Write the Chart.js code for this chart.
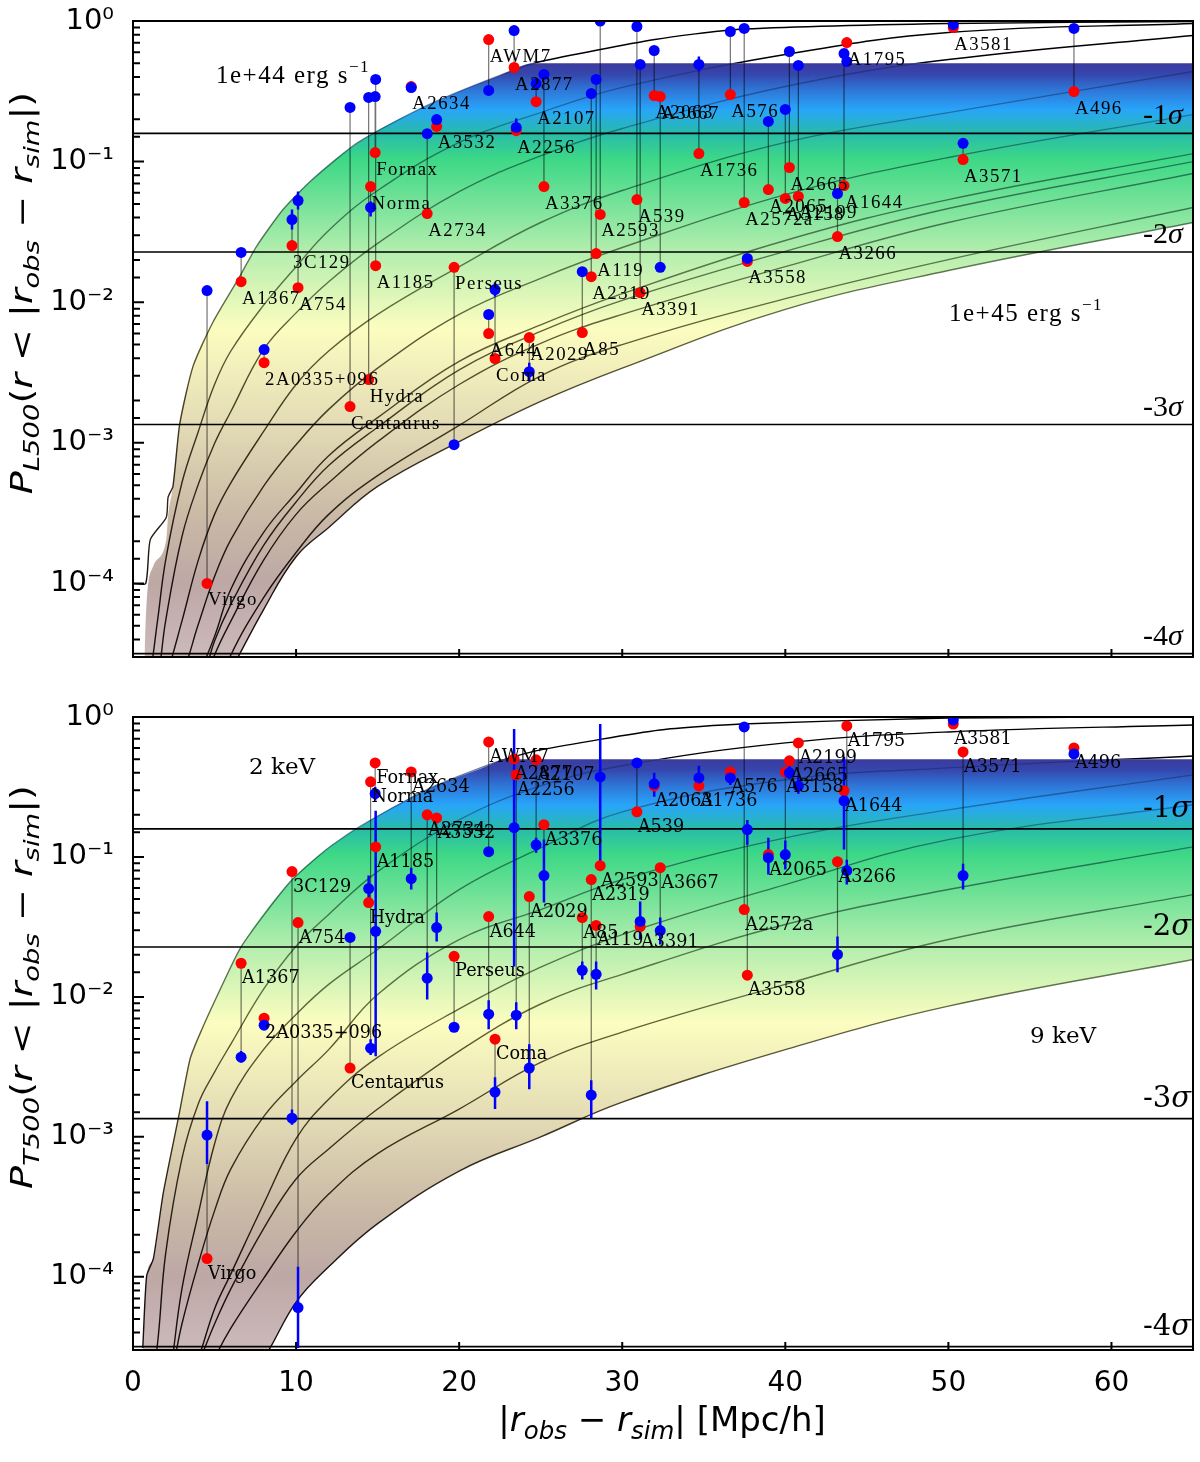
<!DOCTYPE html>
<html lang="en">
<head>
<meta charset="UTF-8">
<title>Cluster probabilities</title>
<script src="https://cdn.jsdelivr.net/npm/chart.js"></script>
<style>
    body { margin: 0; background: #fff; }
    canvas { position: absolute; left: 0; }
    #lumChart { top: 0; }
    #tempChart { top: 690px; }
</style>
</head>
<body>
<canvas id="lumChart" width="1200" height="690"></canvas>
<canvas id="tempChart" width="1200" height="772"></canvas>

<script>
// clusters, sorted by separation
const clusterNames = ['Virgo','A1367','2A0335+096','3C129','A754','Centaurus','Hydra','Norma','Fornax','A1185','A2634',
    'A2734','A3532','Perseus','A644','AWM7','Coma','A2877','A2256','A2029','A2107','A3376','A85','A2319','A119','A2593',
    'A539','A3391','A2063','A3667','A1736','A576','A2572a','A3558','A2065','A3158','A2665','A2199','A3266','A1644',
    'A1795','A3581','A3571','A496'];
const clusterX = [4.54,6.63,8.04,9.75,10.12,13.31,14.45,14.57,14.85,14.88,17.06,18.04,18.62,19.69,21.81,21.81,22.2,
    23.37,23.5,24.3,24.72,25.2,27.55,28.1,28.4,28.65,30.9,31.1,31.96,32.33,34.7,36.63,37.48,37.67,38.96,40,40.25,40.8,
    43.2,43.6,43.77,50.3,50.9,57.7];

// upper panel, luminosity
const lumRed = [1e-4,.014,.00372,.0253,.0127,.00181,.00282,.0665,.116,.0182,.342,.0427,.178,.0177,.00599,.738,.00398,
    .467,.166,.00561,.267,.0665,.00609,.0152,.0222,.0421,.0537,.0117,.295,.29,.114,.3,.0512,.0195,.0633,.0547,.0908,
    .0565,.0293,.0676,.703,.899,.1035,.315];
const lumBlue = [.0121,.0226,.00461,.0387,.0529,.243,.286,.0472,.29,.384,.336,.158,.199,.00097,.00818,.321,.0123,.855,
    .175,.00321,.359,.417,.0165,.305,.384,1.0,.914,.491,.617,.0177,.491,.842,.885,.0205,.193,.235,.607,.483,.0593,.587,
    .515,.944,.135,.885];
const lumErrHi = [null,null,null,.0456,.0612,null,null,.052,null,null,null,null,null,null,null,null,.0138,null,.203,.00372,
    null,null,null,null,null,null,null,null,null,null,.56,null,null,null,null,null,null,null,null,null,null,null,null,null];
const lumErrLo = [null,null,null,.0329,.0456,null,null,.0407,null,null,null,null,null,null,null,null,.011,null,.153,.00273,
    null,null,null,null,null,null,null,null,null,null,.437,null,null,null,null,null,null,null,null,null,null,null,null,null];

// lower panel, temperature
const tempRed = [1.35e-4,.0174,.00704,.0786,.034,.0031,.0472,.344,.47,.118,.405,.2,.19,.0195,.0375,.664,.00499,.502,
    .386,.0521,.494,.17,.0369,.0689,.0324,.0867,.21,.0318,.322,.0839,.322,.405,.0421,.0143,.104,.405,.486,.653,.0926,
    .297,.863,.891,.563,.601];
const tempBlue = [.00103,.00371,.00628,.00136,6.03e-5,.0266,.0594,.0043,.283,.0294,.07,.0136,.0313,.00607,.00752,.109,
    .00209,.162,.0074,.0031,.122,.0736,.0155,.00199,.0145,.373,.47,.0346,.333,.0298,.367,.367,.849,.157,.0989,.104,.399,
    .322,.0201,.252,.0798,.952,.0736,.545];
const tempErrHi = [.0018,.0041,.0067,.00157,1.18e-4,null,.0736,.00499,.316,.214,.0839,.0208,.0401,null,.00946,.118,.00267,
    .82,.00916,.00459,.137,.133,.0179,.00254,.0179,.891,null,.048,.399,.0369,.448,.419,null,.184,.137,.131,.45,.386,.027,
    .519,.0957,null,.0896,null];
const tempErrLo = [.00064,.0034,.0058,.00122,3.1e-5,null,.0472,.00384,.252,.00377,.0585,.0096,.0249,null,.00588,.1,.00158,
    .0165,.00588,.00219,.107,.0472,.0133,.00136,.0113,.091,null,.0257,.269,.0237,.302,.327,null,.122,.0748,.0812,.36,.283,
    .015,.113,.0635,null,.0585,null];

// simulated curves share this x grid
const curveX = [.5,1,1.5,2,3,4,5,6,8,10,12,15,20,25,30,40,50,65];

// first luminosity curve, it has a step at the left
const lumCurve0X = [0,.78,1.06,2.04,2.15,2.45,2.86,3.68,4.9,6.54,7.57,9.2,11,13.8,18,22.5,25,32,37,50,65];
const lumCurve0 = [1e-4,1e-4,2.05e-4,2.95e-4,4.1e-4,4.9e-4,1.35e-3,3.5e-3,7.2e-3,.0152,.0249,.0457,.0746,.137,.25,.41,.515,.738,.87,.96,.99];
const lumCurve1 = [1.3e-5,2.1e-5,5.4e-5,1.46e-4,5.2e-4,1.2e-3,2.6e-3,4.5e-3,9.5e-3,.0179,.0324,.0623,.137,.223,.337,.578,.828,.96];
const lumCurve2 = [1.3e-5,1.5e-5,2.1e-5,5.4e-5,2.15e-4,5.05e-4,9.9e-4,1.67e-3,4.6e-3,8.4e-3,.014,.0262,.0612,.11,.172,.342,.532,.789];
const lumCurve3 = [1.3e-5,1.5e-5,1.5e-5,2.1e-5,5.4e-5,1.46e-4,3.1e-4,5.2e-4,1.2e-3,2.6e-3,4.5e-3,8.2e-3,.0179,.0369,.0623,.137,.223,.438];
const lumCurve4 = [1.3e-5,1.3e-5,1.5e-5,1.5e-5,2.25e-5,5.1e-5,1.12e-4,2.05e-4,4.9e-4,9.7e-4,1.73e-3,3.4e-3,8.2e-3,.0148,.0245,.0583,.107,.216];
const lumCurve5 = [1.3e-5,1.3e-5,1.3e-5,1.5e-5,1.5e-5,2.25e-5,4.2e-5,9.1e-5,2.3e-4,4.4e-4,8.1e-4,1.51e-3,3.8e-3,6.9e-3,.0115,.0275,.0537,.114];
const lumCurve6 = [1.3e-5,1.3e-5,1.3e-5,1.5e-5,1.5e-5,1.75e-5,3.9e-5,7.1e-5,1.86e-4,3.8e-4,6.9e-4,1.29e-3,3.3e-3,6.2e-3,.0103,.023,.0464,.1];
const lumCurve7 = [1.3e-5,1.3e-5,1.3e-5,1.3e-5,1.5e-5,1.5e-5,3.1e-5,5.4e-5,1.46e-4,3.1e-4,5.2e-4,1.02e-3,2.6e-3,5.1e-3,8.2e-3,.0179,.0369,.0823];
const lumCurve8 = [1.3e-5,1.3e-5,1.3e-5,1.3e-5,1.3e-5,1.5e-5,1.5e-5,3.1e-5,7.9e-5,1.66e-4,3.1e-4,5.85e-4,1.33e-3,3e-3,5e-3,.0106,.0201,.0472];
const lumCurve9 = [1.3e-5,1.3e-5,1.3e-5,1.3e-5,1.3e-5,1.5e-5,1.5e-5,2.4e-5,6.5e-5,1.55e-4,2.5e-4,4.9e-4,1.02e-3,1.97e-3,3.4e-3,8.9e-3,.0168,.0369];

// upper edge of the coloured band
const lumBandX = [.7,.82,1.23,2.04,2.15,2.45,2.86,3.68,4.9,6.54,7.57,9.2,11,13.8,18,22.5,24.6,65];
const lumBandTop = [2.9e-5,6.9e-5,1.32e-4,2.05e-4,3e-4,4.9e-4,1.35e-3,3.5e-3,7.2e-3,.0152,.0249,.0457,.0746,.137,.25,.41,.5,.5];

const tempCurve0X = [.6,.84,1.25,1.86,2.78,3.5,4.09,5.2,6.65,9.6,11.86,13.8,18,22.3,25,32.3,37.3,50,65];
const tempCurve0 = [3.1e-5,1.02e-4,1.35e-4,4e-4,1.36e-3,3.6e-3,5.4e-3,.0104,.023,.0656,.113,.162,.302,.478,.582,.808,.891,.984,.995];
const tempCurve1 = [1.3e-5,1.35e-5,3.3e-5,1.46e-4,7e-4,1.72e-3,2.9e-3,4.6e-3,.0113,.023,.0388,.0785,.184,.322,.448,.653,.782,.877];
const tempCurve2 = [1.3e-5,1.3e-5,1.3e-5,1.35e-5,8.2e-5,2.8e-4,8.9e-4,1.86e-3,4.2e-3,7.5e-3,.0123,.0218,.0585,.116,.21,.356,.433,.527];
const tempCurve3 = [1.3e-5,1.3e-5,1.3e-5,1.35e-5,4.6e-5,1.24e-4,2.96e-4,5.9e-4,1.39e-3,2.5e-3,4.2e-3,.0104,.0257,.0421,.0689,.137,.217,.386];
const tempCurve4 = [1.3e-5,1.3e-5,1.3e-5,1.3e-5,1.35e-5,2.6e-5,5.9e-5,1.05e-4,3.3e-4,9.7e-4,1.86e-3,3.7e-3,8.2e-3,.0163,.0279,.0635,.133,.236];
const tempCurve5 = [1.3e-5,1.3e-5,1.3e-5,1.3e-5,1.35e-5,2.4e-5,4.6e-5,8.2e-5,2.2e-4,5e-4,8.2e-4,1.58e-3,4.1e-3,8.9e-3,.0145,.0329,.0585,.118];
const tempCurve6 = [1.3e-5,1.3e-5,1.3e-5,1.3e-5,1.3e-5,1.35e-5,2.6e-5,4.3e-5,9.7e-5,2.1e-4,3.9e-4,7.6e-4,1.58e-3,3.4e-3,5.6e-3,.0123,.0257,.0538];
const tempCurve7 = [1.3e-5,1.3e-5,1.3e-5,1.3e-5,1.3e-5,1.3e-5,1.3e-5,1.35e-5,2.6e-5,6.6e-5,1.18e-4,2.4e-4,5.7e-4,1e-3,1.77e-3,4.2e-3,8.6e-3,.0185];

const tempBandX = [.6,.84,1.25,1.86,2.78,3.5,4.09,5.2,6.65,9.6,11.86,13.8,18,22.3,22.6,65];
const tempBandTop = [3.1e-5,1.02e-4,1.35e-4,4e-4,1.36e-3,3.6e-3,5.4e-3,.0104,.023,.0656,.113,.162,.302,.478,.5,.5];

const sigmaLevels = [.1587,.02275,.00135,3.17e-5];
const sigmaLabels = ['-1','-2','-3','-4'];
const decadeValues = [1e-4,1e-3,1e-2,1e-1,1];
const decadeLabels = ['10⁻⁴','10⁻³','10⁻²','10⁻¹','10⁰'];

// colour along the band, by probability
const bandStopsP = [.5,.42,.33,.235,.16,.104,.0228,.0065,.00135,3e-4,1e-4,3e-5];
const bandStopsColor = ['#3c3a9e','#3546ad','#2f72d4','#28a5fa','#27bbab','#3dd886','#b4eeae','#fcfdc0','#e3dbb5','#c9b9a6','#bda8a5','#ccb9ba'];
// the same lines seen through the band
const lineStopsP = [.5,.2,.1,.02,.006,.001,1e-4];
const lineStopsColor = ['rgba(30,40,110,.65)','rgba(20,70,120,.55)','rgba(10,80,60,.7)','rgba(50,80,40,.75)','rgba(70,70,30,.85)','rgba(50,40,20,.95)','rgba(25,15,15,1)'];

const Y_MIN = 3e-5, Y_MAX = 1, X_MAX = 65;

function bandGradient(chart) {
    if (!chart.chartArea) return '#ccc';
    const y = chart.scales.y;
    const y0 = y.getPixelForValue(.5), y1 = y.getPixelForValue(Y_MIN);
    const g = chart.ctx.createLinearGradient(0, y0, 0, y1);
    bandStopsP.forEach((p, i) => g.addColorStop((y.getPixelForValue(p) - y0) / (y1 - y0), bandStopsColor[i]));
    return g;
}

function lineGradient(chart) {
    if (!chart.chartArea) return '#000';
    const y = chart.scales.y;
    const y0 = y.getPixelForValue(Y_MAX), y1 = y.getPixelForValue(Y_MIN);
    const g = chart.ctx.createLinearGradient(0, y0, 0, y1);
    const cut = (y.getPixelForValue(.5) - y0) / (y1 - y0);
    g.addColorStop(0, '#000');
    g.addColorStop(cut, '#000');
    lineStopsP.forEach((p, i) => g.addColorStop((y.getPixelForValue(p) - y0) / (y1 - y0) + (i ? 0 : .0001), lineStopsColor[i]));
    g.addColorStop(1, lineStopsColor[lineStopsColor.length - 1]);
    return g;
}

const pairs = (xs, ys) => xs.map((x, i) => ({x: x, y: ys[i]}));

// vertical pieces, separated by gaps
function segments(xs, a, b) {
    const out = [];
    xs.forEach((x, i) => {
        if (a[i] !== null && b[i] !== null) out.push({x: x, y: a[i]}, {x: x, y: b[i]}, {x: x, y: null});
    });
    return out;
}

// draw text made of runs with different fonts and offsets
function drawRuns(ctx, runs, x, y, opt) {
    opt = opt || {};
    const family = opt.family || 'DejaVu Sans';
    ctx.save();
    ctx.fillStyle = '#000';
    ctx.textBaseline = 'alphabetic';
    ctx.textAlign = 'left';
    if ('letterSpacing' in ctx) ctx.letterSpacing = (opt.spacing || 0) + 'px';
    const fontOf = r => (r.style || '') + ' ' + r.size + 'px "' + family + '"';
    let w = 0;
    runs.forEach(r => { ctx.font = fontOf(r); w += ctx.measureText(r.t).width; });
    ctx.translate(x, y);
    if (opt.rotate) ctx.rotate(-Math.PI / 2);
    if (opt.stretch) ctx.scale(opt.stretch, 1);
    let pos = opt.center ? -w / 2 : 0;
    runs.forEach(r => {
        ctx.font = fontOf(r);
        ctx.fillText(r.t, pos, r.dy || 0);
        pos += ctx.measureText(r.t).width;
    });
    ctx.restore();
}

function mathRuns(sub, size) {
    const s = size * .72, d = size * .24;
    return [
        {t: 'P', style: 'italic', size: size},
        {t: sub, style: 'italic', size: s, dy: d},
        {t: '(', size: size},
        {t: 'r', style: 'italic', size: size},
        {t: ' < |', size: size},
        {t: 'r', style: 'italic', size: size},
        {t: 'obs', style: 'italic', size: s, dy: d},
        {t: ' − ', size: size},
        {t: 'r', style: 'italic', size: size},
        {t: 'sim', style: 'italic', size: s, dy: d},
        {t: '|)', size: size}
    ];
}

function makePanel(id, cfg) {
    const curveSets = [cfg.curve0].concat(cfg.curves).map((vals, i) => ({
        label: 'curve' + i, data: pairs(i ? curveX : cfg.curve0X, vals), borderColor: c => lineGradient(c.chart),
        borderWidth: 1.4, pointRadius: 0, tension: i ? .4 : .2, order: 5
    }));
    const lowestIndex = curveSets.length - 1;

    const datasets = curveSets.concat([
        {label: 'band', data: pairs(cfg.bandX, cfg.bandTop), borderWidth: 0, borderColor: 'transparent', pointRadius: 0,
            cubicInterpolationMode: 'monotone', backgroundColor: c => bandGradient(c.chart), fill: lowestIndex, order: 10},
        {label: 'sigma', data: sigmaLevels.flatMap(v => [{x: 0, y: v}, {x: X_MAX, y: v}, {x: X_MAX, y: null}]),
            borderColor: '#000', borderWidth: 1.6, pointRadius: 0, order: 4},
        {label: 'links', data: segments(clusterX, cfg.red, cfg.blue), borderColor: 'rgba(0,0,0,.55)', borderWidth: 1.2,
            pointRadius: 0, order: 3},
        {label: 'errors', data: segments(clusterX, cfg.errHi, cfg.errLo), borderColor: '#0000ff', borderWidth: 2.5,
            pointRadius: 0, order: 2},
        {label: 'red', data: pairs(clusterX, cfg.red), showLine: false, pointRadius: 5.5, pointBorderWidth: 0,
            pointBackgroundColor: '#ff0000', order: 1},
        {label: 'blue', data: pairs(clusterX, cfg.blue), showLine: false, pointRadius: 5.5, pointBorderWidth: 0,
            pointBackgroundColor: '#0000ff', order: 0}
    ]);

    const overlay = {
        id: 'overlay',
        afterDatasetsDraw(chart) {
            const ctx = chart.ctx, a = chart.chartArea, xs = chart.scales.x, ys = chart.scales.y;
            // cluster names
            clusterNames.forEach((name, i) => {
                drawRuns(ctx, [{t: name, size: cfg.labelSize}], xs.getPixelForValue(clusterX[i]) + 1,
                    ys.getPixelForValue(cfg.red[i]) + cfg.labelDrop, {family: cfg.labelFamily, spacing: cfg.labelSpacing});
            });
            // sigma marks
            sigmaLevels.forEach((v, i) => {
                drawRuns(ctx, [{t: sigmaLabels[i], size: cfg.sigmaSize}, {t: 'σ', style: 'italic', size: cfg.sigmaSize}],
                    1143, ys.getPixelForValue(v) - cfg.sigmaRise, {family: cfg.labelFamily});
            });
            cfg.notes.forEach(n => drawRuns(ctx, n.runs, n.x, n.y, {family: cfg.labelFamily, spacing: cfg.noteSpacing}));

            // frame and inward ticks
            ctx.save();
            ctx.strokeStyle = '#000';
            ctx.lineWidth = 2;
            ctx.strokeRect(a.left, a.top, a.right - a.left, a.bottom - a.top);
            ctx.beginPath();
            ys.ticks.forEach(t => {
                const p = ys.getPixelForValue(t.value);
                const major = decadeValues.some(d => Math.abs(d / t.value - 1) < 1e-6);
                ctx.moveTo(a.left, p);
                ctx.lineTo(a.left + (major ? 11 : 7), p);
            });
            xs.ticks.forEach(t => {
                if (t.value <= 0 || t.value >= X_MAX) return;
                const p = xs.getPixelForValue(t.value);
                ctx.moveTo(p, a.bottom);
                ctx.lineTo(p, a.bottom - 8);
            });
            ctx.stroke();
            ctx.restore();

            drawRuns(ctx, mathRuns(cfg.subscript, 30), 32, cfg.yTitleCenter, {rotate: true, center: true, stretch: 1.27});
            if (cfg.xTitle) {
                const s = 34;
                drawRuns(ctx, [
                    {t: '|', size: s}, {t: 'r', style: 'italic', size: s}, {t: 'obs', style: 'italic', size: s * .72, dy: 8},
                    {t: ' − ', size: s}, {t: 'r', style: 'italic', size: s}, {t: 'sim', style: 'italic', size: s * .72, dy: 8},
                    {t: '| [Mpc/h]', size: s}
                ], 662, cfg.xTitleY, {center: true});
            }
        }
    };

    return new Chart(document.getElementById(id), {
        type: 'line',
        data: {datasets: datasets},
        plugins: [overlay],
        options: {
            responsive: false,
            animation: false,
            layout: {padding: {top: cfg.areaTop, right: 7, left: 0, bottom: 0}},
            plugins: {legend: {display: false}, tooltip: {enabled: false}},
            scales: {
                x: {
                    type: 'linear', min: 0, max: X_MAX,
                    grid: {display: false}, border: {display: false},
                    afterFit: s => { s.height = cfg.xHeight; },
                    ticks: {
                        stepSize: 10, includeBounds: false, maxRotation: 0, padding: 9, color: '#000',
                        font: {family: 'DejaVu Sans', size: 28},
                        callback: v => cfg.xLabels ? String(v) : ''
                    }
                },
                y: {
                    type: 'logarithmic', min: Y_MIN, max: Y_MAX,
                    grid: {display: false}, border: {display: false},
                    // keep the plot box where it is, whatever the label height
                    afterFit: s => { s.width = 133; s.paddingTop = 0; s.paddingBottom = 0; },
                    ticks: {
                        autoSkip: false, padding: 11, color: '#000',
                        font: {family: 'DejaVu Sans', size: 29},
                        callback: v => {
                            const i = decadeValues.findIndex(d => Math.abs(d / v - 1) < 1e-6);
                            return i < 0 ? '' : decadeLabels[i];
                        }
                    }
                }
            }
        }
    });
}

makePanel('lumChart', {
    red: lumRed, blue: lumBlue, errHi: lumErrHi, errLo: lumErrLo,
    curve0X: lumCurve0X, curve0: lumCurve0,
    curves: [lumCurve1, lumCurve2, lumCurve3, lumCurve4, lumCurve5, lumCurve6, lumCurve7, lumCurve8, lumCurve9],
    bandX: lumBandX, bandTop: lumBandTop,
    areaTop: 21, xHeight: 33, xLabels: false,
    labelFamily: 'Liberation Serif', labelSize: 18.8, labelSpacing: 1.5, labelDrop: 22,
    sigmaSize: 30, sigmaRise: 9, noteSpacing: 1.5,
    subscript: 'L500', yTitleCenter: 293,
    notes: [
        {x: 216, y: 83, runs: [{t: '1e+44 erg s', size: 25}, {t: '−1', size: 17, dy: -11}]},
        {x: 949, y: 321, runs: [{t: '1e+45 erg s', size: 25}, {t: '−1', size: 17, dy: -11}]}
    ]
});

makePanel('tempChart', {
    red: tempRed, blue: tempBlue, errHi: tempErrHi, errLo: tempErrLo,
    curve0X: tempCurve0X, curve0: tempCurve0,
    curves: [tempCurve1, tempCurve2, tempCurve3, tempCurve4, tempCurve5, tempCurve6, tempCurve7],
    bandX: tempBandX, bandTop: tempBandTop,
    areaTop: 27, xHeight: 112, xLabels: true,
    labelFamily: 'DejaVu Serif', labelSize: 17.6, labelSpacing: 0, labelDrop: 20,
    sigmaSize: 29, sigmaRise: 12, noteSpacing: 0,
    subscript: 'T500', yTitleCenter: 297, xTitle: true, xTitleY: 741,
    notes: [
        {x: 249, y: 84, runs: [{t: '2 keV', size: 23}]},
        {x: 1030, y: 353, runs: [{t: '9 keV', size: 23}]}
    ]
});
</script>
</body>
</html>
